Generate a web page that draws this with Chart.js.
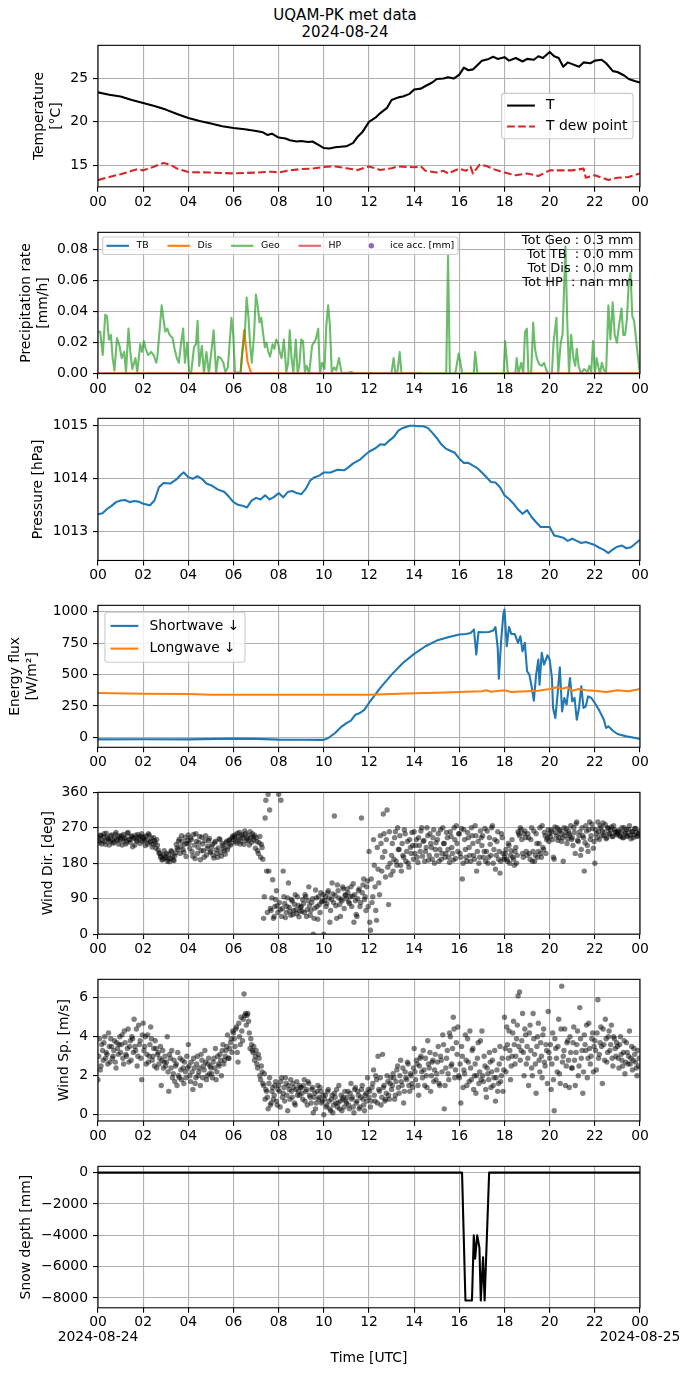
<!DOCTYPE html>
<html>
<head>
<meta charset="utf-8">
<script src="https://cdn.jsdelivr.net/npm/chart.js@4.4.1/dist/chart.umd.min.js"></script>
<style>
  body { margin: 0; background: #fff; width: 690px; height: 1377px; position: relative; overflow: hidden; font-family: 'DejaVu Sans'; }
  canvas { position: absolute; left: 0; }
  #title { position: absolute; left: 0; top: 7px; width: 690px; text-align: center; font-size: 15px; line-height: 17px; color: #000; }
</style>
</head>
<body>
<div id="title">UQAM-PK met data<br>2024-08-24</div>
<script>
// ---- axis ticks / labels ----
const hourTicks = [0, 2, 4, 6, 8, 10, 12, 14, 16, 18, 20, 22, 24];
const hourLabels = ['00', '02', '04', '06', '08', '10', '12', '14', '16', '18', '20', '22', '00'];
const dayLabels = ['2024-08-24', '2024-08-25'];

// ---- temperature ----
const tempTime = [0, 0.5, 1, 1.5, 2, 2.5, 3, 3.5, 4, 4.5, 5, 5.5, 6, 6.5, 7, 7.3, 7.5, 7.7, 8, 8.3, 8.5, 8.8, 9, 9.3, 9.5, 9.8, 10, 10.25, 10.5, 11, 11.3, 11.5, 11.7, 12, 12.3, 12.5, 12.8, 13, 13.3, 13.5, 13.8, 14, 14.3, 14.5, 14.8, 15, 15.3, 15.5, 15.75, 16, 16.2, 16.4, 16.6, 17, 17.3, 17.5, 17.7, 18, 18.2, 18.5, 18.8, 19, 19.3, 19.5, 19.7, 20, 20.2, 20.4, 20.6, 20.8, 21, 21.3, 21.5, 21.8, 22, 22.3, 22.5, 22.8, 23, 23.3, 23.5, 23.8, 24];
const tempT = [23.37, 23.1, 22.9, 22.5, 22.15, 21.8, 21.4, 20.9, 20.45, 20.1, 19.8, 19.5, 19.3, 19.15, 18.95, 18.8, 18.5, 18.65, 18.2, 18.1, 17.9, 17.75, 17.8, 17.7, 17.75, 17.3, 17.0, 16.95, 17.1, 17.2, 17.6, 18.3, 18.8, 20.0, 20.5, 21.0, 21.6, 22.5, 22.8, 22.9, 23.2, 23.7, 23.8, 24.1, 24.5, 24.9, 24.95, 25.1, 24.95, 25.4, 26.2, 25.9, 26.0, 27.0, 27.2, 27.45, 27.2, 27.4, 27.0, 27.3, 26.9, 27.2, 27.1, 27.5, 27.3, 28.0, 27.5, 27.3, 26.3, 26.8, 26.6, 26.3, 26.8, 26.7, 27.0, 27.1, 26.7, 25.8, 25.7, 25.3, 24.9, 24.65, 24.5];
const dewTime = [0, 0.5, 1, 1.5, 1.75, 2, 2.5, 2.9, 3.2, 3.5, 4, 5, 6, 7, 7.7, 8, 8.5, 9, 9.5, 10, 10.5, 11, 11.5, 12, 12.5, 13, 13.3, 14, 14.3, 14.5, 15, 15.3, 15.5, 16, 16.3, 16.5, 16.6, 16.9, 17.2, 17.5, 18, 18.5, 19, 19.5, 20, 21, 21.5, 21.6, 22, 22.6, 23, 23.5, 24];
const dewT = [13.33, 13.7, 14.0, 14.4, 14.6, 14.45, 14.9, 15.3, 15.1, 14.65, 14.25, 14.2, 14.1, 14.2, 14.3, 14.2, 14.45, 14.6, 14.65, 14.85, 14.9, 14.7, 14.5, 14.9, 14.5, 14.7, 14.9, 14.8, 14.9, 14.4, 14.2, 14.4, 14.1, 14.65, 14.4, 14.85, 14.1, 15.1, 14.95, 14.6, 14.2, 13.9, 14.1, 13.8, 14.45, 14.45, 14.65, 13.6, 13.9, 13.35, 13.6, 13.7, 14.1];

// ---- precipitation ----
const geoTime = [0.00, 0.10, 0.21, 0.32, 0.40, 0.48, 0.57, 0.65, 0.73, 0.84, 0.95, 1.05, 1.16, 1.24, 1.35, 1.43, 1.52, 1.66, 1.74, 1.87, 1.95, 2.03, 2.11, 2.22, 2.35, 2.46, 2.58, 2.63, 2.82, 2.90, 2.98, 3.07, 3.17, 3.30, 3.39, 3.49, 3.58, 3.69, 3.77, 3.85, 3.95, 4.04, 4.12, 4.25, 4.34, 4.41, 4.48, 4.60, 4.69, 4.80, 4.91, 5.04, 5.12, 5.23, 5.32, 5.44, 5.55, 5.64, 5.75, 5.91, 5.99, 6.07, 6.18, 6.31, 6.39, 6.50, 6.58, 6.66, 6.74, 6.81, 6.91, 6.99, 7.07, 7.15, 7.23, 7.31, 7.39, 7.46, 7.54, 7.62, 7.73, 7.81, 7.89, 7.97, 8.05, 8.13, 8.23, 8.34, 8.42, 8.49, 8.57, 8.65, 8.76, 8.84, 8.92, 9.00, 9.08, 9.16, 9.24, 9.35, 9.48, 9.56, 9.64, 9.75, 9.83, 9.92, 10.03, 10.11, 10.19, 10.27, 10.35, 10.46, 10.55, 10.67, 10.78, 10.90, 11.22, 11.38, 12.99, 13.09, 13.17, 13.25, 13.36, 13.44, 15.42, 15.50, 15.58, 15.82, 15.97, 16.13, 16.64, 16.70, 16.80, 17.96, 18.03, 18.15, 18.48, 18.54, 18.62, 18.74, 18.83, 18.91, 18.99, 19.06, 19.18, 19.27, 19.35, 19.43, 19.54, 19.65, 19.75, 19.86, 19.94, 20.10, 20.17, 20.30, 20.38, 20.49, 20.57, 20.70, 20.78, 20.86, 20.95, 21.05, 21.13, 21.20, 21.28, 21.39, 21.52, 21.68, 21.76, 21.84, 21.92, 22.00, 22.08, 22.16, 22.23, 22.31, 22.41, 22.50, 22.60, 22.69, 22.79, 22.88, 22.98, 23.07, 23.18, 23.26, 23.34, 23.42, 23.50, 23.58, 23.66, 23.74, 23.90, 24.00];
const geoRate = [0.027, 0.027, 0.012, 0.038, 0.037, 0.022, 0.025, 0.010, 0.002, 0.023, 0.018, 0.010, 0.014, 0.001, 0.029, 0.014, 0.003, 0.010, 0.001, 0.019, 0.014, 0.021, 0.016, 0.012, 0.014, 0.012, 0.007, 0.011, 0.044, 0.035, 0.027, 0.029, 0.025, 0.023, 0.016, 0.010, 0.007, 0.021, 0.029, 0.007, 0.020, 0, 0, 0.017, 0.019, 0.034, 0.005, 0.018, 0, 0.014, 0, 0.017, 0.028, 0, 0.011, 0.010, 0.007, 0.001, 0.004, 0.036, 0.025, 0, 0.001, 0, 0.014, 0.025, 0.049, 0.037, 0.018, 0.007, 0.025, 0.051, 0.044, 0.033, 0.036, 0.026, 0.017, 0.020, 0.014, 0.011, 0.019, 0.016, 0.022, 0.020, 0.014, 0.010, 0.022, 0.001, 0.007, 0.028, 0.010, 0.001, 0.022, 0, 0.006, 0.022, 0.021, 0.001, 0.005, 0, 0.018, 0.020, 0.022, 0.029, 0, 0.007, 0.003, 0.031, 0.044, 0.031, 0.001, 0.004, 0.002, 0.010, 0.001, 0, 0.001, 0, 0, 0.010, 0, 0, 0.014, 0, 0, 0.076, 0, 0, 0.013, 0, 0, 0.014, 0, 0, 0.021, 0, 0, 0.010, 0, 0.007, 0, 0.027, 0.029, 0, 0, 0.033, 0.016, 0.010, 0.006, 0.005, 0.007, 0.002, 0, 0, 0.020, 0.036, 0, 0.020, 0.025, 0.082, 0.033, 0, 0.025, 0.010, 0.005, 0.016, 0.005, 0, 0.003, 0.001, 0.005, 0.001, 0.021, 0, 0.010, 0.004, 0, 0.007, 0.002, 0.001, 0.044, 0.022, 0.046, 0.025, 0.020, 0.031, 0.042, 0.025, 0.025, 0.035, 0.058, 0.065, 0.037, 0.034, 0.012, 0];
const disTime = [0, 6.31, 6.47, 6.62, 6.74, 6.81, 24];
const disRate = [0, 0, 0.028, 0.008, 0.002, 0, 0];
const tbTime = [0, 24];
const tbRate = [0, 0];
const hpTime = [0, 14.35, 14.4, 17.98, 24];
const hpRate = [0, 0, null, 0, 0];
const precipTotals = ['Tot Geo : 0.3 mm', 'Tot TB  : 0.0 mm', 'Tot Dis : 0.0 mm', 'Tot HP  : nan mm'];

// ---- pressure ----
const presTime = [0, 0.2, 0.4, 0.6, 0.8, 1.0, 1.2, 1.4, 1.6, 1.8, 2.0, 2.3, 2.5, 2.7, 2.9, 3.2, 3.5, 3.7, 3.8, 4.0, 4.2, 4.4, 4.6, 4.8, 5.0, 5.3, 5.6, 5.8, 6.0, 6.2, 6.4, 6.6, 6.8, 7.0, 7.2, 7.4, 7.6, 7.8, 8.0, 8.2, 8.4, 8.6, 8.8, 9.0, 9.2, 9.4, 9.6, 9.8, 10.0, 10.3, 10.6, 10.9, 11.1, 11.3, 11.6, 11.8, 12.0, 12.3, 12.5, 12.7, 12.9, 13.1, 13.3, 13.5, 13.8, 14.0, 14.2, 14.4, 14.6, 14.8, 15.0, 15.2, 15.4, 15.6, 15.8, 16.0, 16.2, 16.4, 16.6, 16.8, 17.0, 17.2, 17.4, 17.6, 17.8, 18.0, 18.2, 18.4, 18.6, 18.8, 19.0, 19.2, 19.4, 19.6, 19.8, 20.0, 20.2, 20.4, 20.6, 20.8, 21.0, 21.2, 21.4, 21.6, 21.8, 22.0, 22.2, 22.4, 22.6, 22.8, 23.0, 23.2, 23.4, 23.6, 23.8, 24.0];
const presVal = [1013.33, 1013.35, 1013.43, 1013.49, 1013.56, 1013.59, 1013.60, 1013.56, 1013.58, 1013.57, 1013.53, 1013.50, 1013.59, 1013.84, 1013.92, 1013.91, 1014.00, 1014.09, 1014.12, 1014.03, 1014.00, 1014.05, 1014.00, 1013.91, 1013.88, 1013.80, 1013.75, 1013.66, 1013.56, 1013.51, 1013.49, 1013.46, 1013.59, 1013.64, 1013.61, 1013.69, 1013.61, 1013.66, 1013.73, 1013.65, 1013.75, 1013.77, 1013.73, 1013.71, 1013.81, 1013.97, 1014.03, 1014.06, 1014.12, 1014.12, 1014.17, 1014.16, 1014.22, 1014.29, 1014.36, 1014.44, 1014.51, 1014.58, 1014.65, 1014.64, 1014.72, 1014.79, 1014.91, 1014.96, 1015.00, 1015.00, 1014.99, 1014.99, 1014.96, 1014.87, 1014.77, 1014.65, 1014.57, 1014.53, 1014.49, 1014.38, 1014.30, 1014.30, 1014.25, 1014.20, 1014.12, 1014.03, 1013.94, 1013.93, 1013.84, 1013.69, 1013.62, 1013.53, 1013.42, 1013.34, 1013.41, 1013.28, 1013.18, 1013.09, 1013.09, 1013.09, 1012.93, 1012.91, 1012.89, 1012.83, 1012.87, 1012.83, 1012.79, 1012.81, 1012.78, 1012.75, 1012.70, 1012.66, 1012.60, 1012.67, 1012.72, 1012.74, 1012.69, 1012.71, 1012.78, 1012.85];

// ---- radiation ----
const swTime = [0, 2, 4, 6, 7, 8, 9, 10, 10.2, 10.5, 10.8, 11.0, 11.2, 11.4, 11.6, 11.8, 12.0, 12.5, 13.0, 13.5, 14.0, 14.5, 15.0, 15.5, 16.0, 16.3, 16.5, 16.65, 16.75, 16.85, 17.0, 17.3, 17.5, 17.6, 17.7, 17.75, 17.85, 17.95, 18.0, 18.1, 18.2, 18.3, 18.45, 18.6, 18.7, 18.8, 18.9, 19.0, 19.1, 19.2, 19.3, 19.4, 19.5, 19.55, 19.65, 19.75, 19.9, 20.0, 20.1, 20.15, 20.25, 20.35, 20.45, 20.55, 20.65, 20.75, 20.9, 21.0, 21.1, 21.2, 21.3, 21.4, 21.5, 21.6, 21.7, 21.85, 22.0, 22.2, 22.4, 22.5, 22.6, 22.8, 23.0, 23.4, 23.8, 24.0];
const swVal = [-16, -15, -16, -10, -12, -18, -19, -20, -5, 35, 88, 114, 133, 181, 194, 221, 274, 394, 500, 593, 665, 726, 771, 798, 819, 824, 832, 859, 660, 840, 838, 840, 851, 878, 713, 468, 766, 984, 1019, 726, 880, 824, 824, 753, 806, 686, 753, 527, 500, 407, 293, 500, 620, 420, 673, 580, 654, 620, 473, 234, 154, 340, 559, 207, 314, 261, 473, 287, 314, 141, 234, 407, 234, 247, 327, 314, 274, 213, 141, 75, 88, 53, 27, 8, -5, -13];
const lwTime = [0, 2, 4, 5, 8, 10, 12, 13, 14, 15, 16, 17, 17.2, 17.4, 18.0, 18.3, 19.0, 19.5, 20.0, 20.3, 20.5, 20.8, 21.0, 21.3, 21.6, 22.0, 22.5, 23.0, 23.5, 24.0];
const lwVal = [354, 348, 345, 340, 340, 340, 340, 346, 351, 356, 362, 367, 375, 364, 375, 362, 367, 372, 386, 399, 386, 399, 372, 386, 375, 372, 362, 375, 367, 386];

// ---- wind: readings every 4 minutes (15 per hour); the "B" arrays are the readings 2 minutes later ----
const windStepMin = 4;
const windDirA = [
  245, 232, 250, 238, 255, 228, 246, 240, 236, 252, 231, 244, 258, 237, 249,
  241, 226, 253, 245, 234, 258, 239, 248, 222, 244, 251, 236, 247, 230, 255,
  243, 238, 249, 229, 252, 236, 221, 245, 232, 240, 214, 205, 198, 190, 212,
  196, 185, 203, 192, 210, 188, 199, 228, 215, 241, 222, 235, 208, 246, 230,
  252, 218, 240, 198, 226, 255, 205, 233, 189, 246, 212, 237, 201, 224, 243,
  210, 228, 193, 236, 205, 219, 240, 198, 225, 212, 232, 214, 238, 226, 245,
  240, 252, 231, 246, 258, 236, 249, 228, 255, 243, 238, 260, 233, 247, 251,
  245, 212, 232, 195, 220, 40, 295, 160, 355, 315, 60, 138, 45, 88, 72,
  355, 62, 45, 160, 78, 55, 92, 68, 48, 84, 60, 100, 52, 73, 58,
  70, 88, 55, 95, 62, 120, 48, 80, 0, 66, 92, 38, 75, 105, 84,
  0, 95, 78, 110, 30, 88, 102, 300, 72, 125, 92, 45, 84, 115, 98,
  90, 105, 78, 120, 96, 30, 85, 45, 110, 70, 295, 125, 88, 60, 135,
  210, 10, 80, 240, 120, 35, 165, 100, 230, 195, 255, 145, 315, 75, 180,
  200, 160, 245, 185, 270, 215, 175, 230, 195, 255, 210, 180, 240, 205, 225,
  260, 225, 195, 245, 210, 270, 235, 185, 220, 250, 200, 230, 190, 265, 215,
  200, 255, 215, 190, 270, 230, 205, 245, 195, 260, 220, 188, 240, 275, 210,
  255, 195, 140, 265, 215, 185, 245, 200, 270, 230, 190, 250, 210, 180, 262,
  225, 195, 268, 210, 180, 245, 200, 275, 215, 165, 235, 190, 155, 255, 205,
  195, 215, 185, 225, 200, 240, 190, 210, 180, 260, 250, 265, 205, 255, 245,
  200, 245, 190, 270, 210, 185, 255, 195, 230, 205, 275, 215, 250, 240, 265,
  255, 265, 240, 190, 258, 270, 245, 262, 235, 185, 250, 268, 242, 255, 275,
  245, 270, 205, 285, 235, 260, 215, 250, 160, 275, 225, 265, 240, 280, 218,
  180, 255, 285, 240, 270, 262, 250, 278, 245, 268, 255, 272, 248, 265, 258,
  255, 262, 248, 270, 245, 258, 265, 250, 275, 242, 260, 252, 268, 248, 255
];
const windDirB = [
  238, 251, 229, 247, 235, 256, 242, 226, 249, 239, 233, 254, 241, 229, 246,
  250, 237, 243, 229, 256, 240, 233, 249, 244, 226, 238, 253, 242, 248, 236,
  247, 225, 240, 255, 233, 244, 228, 237, 218, 226, 206, 195, 188, 201, 193,
  205, 191, 184, 212, 197, 187, 206, 219, 236, 205, 250, 215, 228, 197, 238,
  231, 244, 209, 253, 192, 236, 220, 248, 212, 229, 195, 250, 217, 238, 207,
  221, 200, 232, 214, 195, 242, 208, 230, 218, 203, 236, 222, 240, 231, 249,
  247, 235, 256, 241, 229, 253, 244, 262, 237, 250, 226, 245, 255, 239, 218,
  235, 205, 248, 228, 190, 95, 340, 55, 160, 65, 92, 40, 70, 110, 55,
  80, 340, 65, 95, 42, 70, 130, 58, 88, 50, 76, 62, 95, 44, 68,
  58, 78, 100, 45, 85, 72, 60, 90, 40, 112, 70, 95, 55, 82, 100,
  85, 70, 105, 92, 60, 130, 80, 98, 40, 110, 75, 88, 120, 65, 100,
  115, 82, 95, 70, 128, 100, 50, 90, 115, 80, 105, 140, 95, 120, 70,
  30, 140, 95, 175, 60, 220, 130, 250, 160, 305, 210, 240, 170, 260, 150,
  230, 190, 260, 175, 215, 250, 160, 200, 265, 185, 235, 170, 220, 258, 190,
  205, 240, 182, 225, 262, 198, 238, 210, 270, 188, 255, 220, 245, 180, 232,
  240, 185, 265, 205, 230, 195, 258, 215, 182, 248, 205, 270, 192, 230, 255,
  205, 268, 180, 240, 195, 258, 220, 185, 250, 200, 275, 160, 235, 195, 245,
  250, 210, 185, 262, 195, 228, 270, 180, 240, 200, 260, 210, 185, 245, 190,
  205, 190, 230, 180, 212, 195, 175, 220, 200, 255, 270, 240, 195, 262, 210,
  255, 205, 240, 185, 262, 200, 230, 210, 270, 195, 220, 258, 205, 245, 235,
  248, 260, 195, 272, 250, 238, 265, 255, 245, 270, 258, 230, 262, 250, 240,
  225, 258, 280, 238, 250, 200, 270, 245, 232, 262, 210, 285, 250, 268, 235,
  265, 245, 260, 275, 250, 282, 258, 242, 270, 255, 265, 248, 275, 260, 252,
  262, 250, 258, 245, 270, 255, 248, 265, 252, 260, 245, 268, 258, 250, 262
];
const windSpdA = [
  1.8, 3.9, 2.5, 3.3, 3.7, 2.9, 3.1, 4.2, 2.7, 3.5, 3.0, 3.8, 2.4, 3.4, 3.6,
  3.2, 4.1, 2.6, 3.7, 3.0, 4.4, 3.5, 2.8, 3.9, 4.9, 3.3, 2.5, 4.6, 3.8, 1.8,
  4.7, 3.5, 2.6, 4.1, 3.0, 4.5, 2.8, 3.4, 3.8, 2.4, 3.2, 2.9, 1.5, 3.3, 2.7,
  2.5, 4.0, 1.2, 2.9, 3.3, 2.1, 1.7, 2.6, 3.2, 1.9, 2.3, 2.8, 1.6, 2.2, 3.0,
  3.6, 2.0, 2.7, 1.3, 2.4, 1.9, 3.0, 2.2, 1.5, 2.8, 2.5, 3.3, 1.8, 2.6, 2.1,
  2.4, 1.9, 2.9, 3.4, 2.2, 2.6, 3.1, 2.0, 3.6, 2.8, 3.3, 4.1, 2.9, 3.7, 3.2,
  4.2, 3.5, 4.5, 2.7, 4.0, 5.0, 3.8, 6.2, 5.2, 5.1, 4.8, 3.4, 3.6, 3.2, 2.8,
  3.3, 2.4, 2.9, 1.8, 2.2, 1.5, 0.8, 1.2, 0.3, 1.9, 0.6, 1.4, 1.0, 1.7, 0.5,
  1.5, 0.4, 1.9, 1.1, 0.7, 1.6, 0.2, 1.3, 1.8, 0.9, 1.4, 0.5, 1.7, 1.2, 1.0,
  1.4, 0.8, 1.8, 1.2, 0.5, 1.6, 0.9, 1.3, 0.1, 1.1, 0.6, 1.5, 0.9, 1.2, 0.7,
  0.0, 1.0, 0.5, 1.3, 0.3, 0.8, 0.1, 1.1, 0.6, 0.4, 1.5, 0.7, 0.2, 0.9, 1.2,
  0.6, 1.2, 0.3, 1.6, 0.9, 0.1, 1.4, 0.7, 1.0, 0.4, 1.3, 0.8, 0.2, 1.1, 1.9,
  0.9, 0.4, 1.4, 2.3, 0.7, 1.8, 3.0, 1.2, 0.5, 3.1, 1.5, 0.8, 2.0, 1.0, 1.6,
  1.3, 2.1, 0.8, 1.7, 2.5, 1.1, 2.8, 1.5, 0.6, 2.2, 1.8, 2.6, 1.2, 2.0, 1.4,
  3.4, 1.8, 2.6, 1.0, 2.9, 2.2, 3.3, 1.5, 2.0, 3.8, 2.4, 1.2, 2.7, 1.7, 3.1,
  2.1, 3.5, 1.5, 2.8, 4.1, 0.3, 2.4, 3.3, 1.8, 4.0, 2.6, 5.0, 1.9, 3.7, 4.5,
  1.9, 0.6, 3.0, 2.3, 4.1, 1.5, 2.7, 4.3, 1.8, 3.4, 2.0, 1.1, 2.9, 1.6, 3.8,
  4.3, 1.7, 2.5, 0.9, 2.1, 3.2, 1.4, 2.8, 1.9, 0.7, 2.3, 1.6, 3.5, 2.0, 1.2,
  5.0, 2.2, 3.6, 4.3, 1.8, 3.0, 4.8, 2.6, 3.9, 6.1, 6.3, 3.3, 5.2, 2.0, 4.1,
  3.5, 1.5, 4.6, 2.4, 5.2, 3.1, 1.1, 4.0, 2.8, 3.7, 1.9, 4.4, 2.5, 3.3, 5.3,
  2.9, 1.3, 4.2, 0.2, 3.4, 2.2, 4.9, 1.6, 6.6, 3.0, 4.4, 2.5, 3.8, 1.4, 3.2,
  2.4, 4.5, 1.5, 3.6, 2.0, 5.5, 2.9, 1.1, 4.1, 3.3, 1.9, 4.7, 2.6, 3.9, 2.2,
  3.8, 2.3, 5.9, 3.1, 4.5, 1.6, 3.6, 4.9, 2.7, 4.0, 3.3, 4.6, 2.5, 3.9, 3.0,
  3.5, 2.4, 4.0, 2.8, 3.2, 2.1, 3.7, 2.6, 4.3, 2.9, 2.3, 3.4, 2.7, 2.0, 2.5
];
const windSpdB = [
  3.0, 2.3, 3.6, 2.8, 4.0, 3.2, 2.6, 3.5, 3.9, 2.9, 3.3, 2.7, 3.7, 3.1, 4.0,
  3.6, 2.9, 4.3, 3.1, 3.4, 2.7, 3.8, 4.0, 3.2, 3.5, 4.4, 3.0, 3.6, 2.9, 4.1,
  3.3, 4.0, 3.1, 2.7, 3.6, 3.9, 3.0, 2.5, 3.4, 3.1, 2.6, 3.5, 2.8, 2.4, 3.0,
  2.7, 2.2, 3.1, 2.4, 1.9, 2.8, 2.5, 1.5, 2.0, 2.9, 1.8, 2.4, 2.7, 1.9, 2.4,
  2.5, 1.7, 2.2, 2.9, 1.6, 2.6, 2.0, 2.4, 3.1, 1.9, 2.3, 2.7, 2.0, 2.9, 2.5,
  2.1, 2.7, 2.4, 1.8, 3.0, 2.5, 2.8, 3.3, 2.6, 3.0, 3.5, 2.9, 3.4, 3.9, 4.3,
  3.9, 4.4, 3.2, 4.7, 3.6, 4.3, 4.9, 5.1, 4.6, 5.2, 4.2, 3.9, 3.3, 3.5, 3.0,
  2.6, 3.1, 2.0, 2.5, 1.6, 2.1, 1.3, 0.9, 1.6, 0.5, 1.2, 0.8, 1.5, 0.7, 1.3,
  1.2, 1.7, 0.9, 1.4, 1.9, 1.0, 1.5, 0.8, 1.2, 1.6, 0.6, 1.3, 1.0, 1.5, 1.4,
  1.1, 1.5, 0.7, 1.3, 1.7, 1.0, 0.6, 1.4, 0.9, 0.3, 1.2, 0.8, 1.4, 0.6, 1.0,
  0.8, 0.4, 1.2, 0.7, 0.2, 1.0, 0.5, 0.9, 1.3, 0.6, 0.3, 1.0, 0.8, 0.4, 0.7,
  0.9, 0.5, 1.1, 0.8, 0.4, 1.3, 0.6, 1.2, 0.3, 0.9, 1.5, 0.5, 1.0, 0.7, 1.3,
  1.2, 0.7, 1.6, 1.0, 2.0, 0.6, 1.3, 1.9, 0.9, 1.4, 0.7, 1.1, 1.7, 0.8, 1.9,
  1.5, 1.9, 1.0, 2.3, 1.4, 2.0, 1.7, 2.4, 1.2, 1.9, 2.7, 1.5, 2.1, 1.6, 2.4,
  2.2, 2.8, 1.5, 2.5, 3.0, 1.9, 2.3, 2.9, 1.4, 2.6, 3.2, 2.0, 2.8, 2.3, 1.8,
  2.7, 1.6, 3.0, 2.2, 3.6, 1.5, 2.9, 2.1, 4.2, 2.5, 3.4, 4.4, 2.3, 3.1, 2.0,
  2.6, 3.5, 1.4, 2.1, 2.8, 3.9, 1.7, 2.4, 3.3, 1.3, 2.6, 2.0, 3.7, 2.2, 1.8,
  2.0, 3.0, 1.3, 2.4, 1.8, 2.7, 2.2, 1.5, 3.3, 1.9, 1.2, 2.6, 1.7, 2.9, 2.3,
  3.4, 4.5, 2.9, 3.3, 2.5, 4.2, 3.6, 3.0, 4.6, 3.5, 2.8, 3.8, 3.2, 4.4, 2.6,
  2.9, 4.2, 3.3, 2.0, 3.9, 2.6, 3.5, 4.7, 2.2, 3.0, 4.1, 2.7, 3.6, 1.6, 3.2,
  3.6, 2.6, 1.8, 3.9, 2.9, 3.5, 2.1, 4.4, 2.7, 3.3, 1.5, 3.7, 2.8, 4.0, 2.4,
  3.7, 2.8, 3.2, 4.3, 2.5, 3.9, 3.3, 2.2, 3.6, 4.6, 2.9, 3.4, 3.0, 4.2, 3.5,
  3.3, 4.2, 2.9, 3.7, 3.5, 4.4, 2.8, 3.9, 3.2, 4.3, 3.6, 2.9, 4.0, 3.4, 3.7,
  2.9, 3.6, 3.1, 2.5, 3.8, 2.7, 3.2, 3.0, 2.6, 3.5, 2.8, 3.1, 2.4, 3.3, 2.9
];

// ---- snow depth ----
const snowTime = [0, 16.12, 16.27, 16.56, 16.64, 16.70, 16.79, 16.89, 16.95, 17.05, 17.12, 17.32, 24];
const snowVal = [0, 0, -8170, -8170, -4000, -5500, -4000, -4800, -8170, -5400, -8170, 0, 0];

// ---- layout (px) ----
const PLOT_LEFT = 98, PLOT_RIGHT = 640, FIRST_TOP = 44.3, PANEL_STEP = 186.83, PANEL_H = 142.5, PAD_TOP = 12;
const FS = 13.9, LW = 2.08;

Chart.defaults.font.family = 'DejaVu Sans';
Chart.defaults.font.size = FS;
Chart.defaults.color = '#000';

const pts = (xs, ys) => xs.map((x, i) => ({x: x, y: ys[i]}));
const windPts = (vals, offsetMin) => vals.map((v, i) => ({x: (i * windStepMin + offsetMin) / 60, y: v}));

function lineSet(label, xs, ys, color, extra) {
  return Object.assign({label: label, data: pts(xs, ys), showLine: true, borderColor: color, backgroundColor: color,
    borderWidth: LW, pointRadius: 0, borderJoinStyle: 'round'}, extra || {});
}

function dotSet(a, b) {
  return {data: windPts(a, 0).concat(windPts(b, 2)), backgroundColor: 'rgba(0,0,0,0.5)', borderWidth: 0, pointRadius: 2.7};
}

// box around the axes
const frame = {
  id: 'frame',
  afterDatasetsDraw(chart) {
    const {ctx, chartArea: a} = chart;
    ctx.save();
    ctx.strokeStyle = '#000';
    ctx.lineWidth = 1.1;
    ctx.strokeRect(a.left, a.top, a.right - a.left, a.bottom - a.top);
    ctx.restore();
  }
};

// matplotlib-like framed legend
const boxLegend = {
  id: 'boxLegend',
  afterDraw(chart, args, o) {
    if (!o || !o.show) return;
    const {ctx, chartArea: a} = chart;
    const fs = o.fontSize;
    const items = chart.data.datasets.filter(d => d.label);
    const pad = 0.4 * fs, gap = 0.8 * fs, colSp = 2 * fs, inset = 0.5 * fs;
    const ncol = o.ncol || 1;
    const nrow = Math.ceil(items.length / ncol);
    ctx.save();
    ctx.font = fs + 'px "DejaVu Sans"';
    const colW = [];
    items.forEach((d, i) => {
      const c = Math.floor(i / nrow);
      colW[c] = Math.max(colW[c] || 0, o.handleLen + gap + ctx.measureText(d.label).width);
    });
    const w = 2 * pad + colW.reduce((s, v) => s + v, 0) + colSp * (colW.length - 1);
    const h = 2 * pad + (nrow - 1) * o.rowH + o.textH;
    let x0, y0;
    if (o.loc === 'upper left') { x0 = a.left + inset; y0 = a.top + inset; }
    else { x0 = a.right - inset - w; y0 = (a.top + a.bottom) / 2 - h / 2; }
    ctx.fillStyle = 'rgba(255,255,255,0.8)';
    ctx.strokeStyle = '#cccccc';
    ctx.lineWidth = 1.1;
    ctx.beginPath();
    ctx.roundRect(x0, y0, w, h, 0.2 * fs);
    ctx.fill();
    ctx.stroke();
    items.forEach((d, i) => {
      const c = Math.floor(i / nrow), r = i % nrow;
      let cx = x0 + pad;
      for (let k = 0; k < c; k++) cx += colW[k] + colSp;
      const yc = y0 + pad + o.textH / 2 + r * o.rowH;
      if (d.showLine === false) {
        ctx.fillStyle = d.backgroundColor;
        ctx.beginPath();
        ctx.arc(cx + o.handleLen / 2, yc, 2.7, 0, Math.PI * 2);
        ctx.fill();
      } else {
        ctx.strokeStyle = d.borderColor;
        ctx.lineWidth = d.borderWidth;
        ctx.setLineDash(d.borderDash || []);
        ctx.beginPath();
        ctx.moveTo(cx, yc);
        ctx.lineTo(cx + o.handleLen, yc);
        ctx.stroke();
        ctx.setLineDash([]);
      }
      ctx.fillStyle = '#000';
      ctx.textAlign = 'left';
      ctx.textBaseline = 'middle';
      ctx.fillText(d.label, cx + o.handleLen + gap, yc);
    });
    ctx.restore();
  }
};

// text block in the upper right of the precipitation axes
const cornerText = {
  id: 'cornerText',
  afterDraw(chart, args, o) {
    if (!o || !o.lines) return;
    const {ctx, chartArea: a} = chart;
    ctx.save();
    ctx.font = o.size + 'px "DejaVu Sans"';
    ctx.fillStyle = '#000';
    ctx.textAlign = 'right';
    ctx.textBaseline = 'middle';
    o.lines.forEach((t, k) => ctx.fillText(t, a.right - o.dx, a.top + o.dy + k * o.step));
    ctx.restore();
  }
};

function makePanel(i, datasets, y, extra) {
  extra = extra || {};
  const top = FIRST_TOP + i * PANEL_STEP;
  const cTop = Math.floor(top) - PAD_TOP;
  const padTop = top - cTop;
  const xH0 = extra.xH || 30;
  const h = Math.ceil(padTop + PANEL_H + xH0);
  const xH = h - padTop - PANEL_H;
  const cv = document.createElement('canvas');
  cv.width = 690; cv.height = h;
  cv.style.top = cTop + 'px';
  document.body.appendChild(cv);
  const xLabels = extra.xLabels || hourLabels;
  new Chart(cv, {
    type: 'scatter',
    data: {datasets: datasets},
    options: {
      responsive: false, animation: false, events: [],
      layout: {padding: {top: padTop, right: 690 - PLOT_RIGHT, bottom: 0, left: 0}},
      plugins: {
        legend: {display: false}, tooltip: {enabled: false},
        boxLegend: extra.legend || {}, cornerText: extra.corner || {}
      },
      scales: {
        x: {
          type: 'linear', min: 0, max: 24,
          afterBuildTicks: s => { s.ticks = hourTicks.map(v => ({value: v})); },
          afterFit: s => { s.height = xH; },
          ticks: {autoSkip: false, maxRotation: 0, padding: 2, callback: (v, k) => xLabels[k],
            font: {size: FS, lineHeight: extra.xLineHeight || 1.2}},
          grid: {color: '#b0b0b0', lineWidth: 1.1, tickColor: '#000', tickLength: 5, tickWidth: 1.1},
          border: {display: false},
          title: extra.xTitle ? {display: true, text: extra.xTitle, padding: {top: 0, bottom: 10.4}} : {display: false}
        },
        y: {
          min: y.min, max: y.max,
          afterBuildTicks: s => { s.ticks = y.ticks.map(v => ({value: v})); },
          afterFit: s => { s.width = PLOT_LEFT; },
          ticks: {autoSkip: false, padding: 5, callback: (v, k) => y.labels[k]},
          grid: {color: '#b0b0b0', lineWidth: 1.1, tickColor: '#000', tickLength: 5, tickWidth: 1.1},
          border: {display: false},
          title: {display: true, text: y.title, padding: {top: y.titlePad, bottom: 0}}
        }
      }
    },
    plugins: [frame, boxLegend, cornerText]
  });
}

// 1 temperature
makePanel(0, [
  lineSet('T', tempTime, tempT, '#000000', {order: 2}),
  lineSet('T dew point', dewTime, dewT, '#d62728', {order: 1, borderDash: [7.7, 3.3]})
], {min: 12.57, max: 28.75, ticks: [15, 20, 25], labels: ['15', '20', '25'], title: ['Temperature', '[°C]'], titlePad: 31},
{legend: {show: true, loc: 'center right', fontSize: FS, handleLen: 27.8, rowH: 21, textH: 13.2}});

// 2 precipitation
makePanel(1, [
  lineSet('TB', tbTime, tbRate, '#1f77b4', {order: 5}),
  lineSet('Dis', disTime, disRate, '#ff7f0e', {order: 4}),
  lineSet('Geo', geoTime, geoRate, 'rgba(44,160,44,0.7)', {order: 3}),
  lineSet('HP', hpTime, hpRate, 'rgba(214,39,40,0.7)', {order: 2, spanGaps: false}),
  {label: 'ice acc. [mm]', data: [], showLine: false, backgroundColor: '#9467bd', borderColor: '#9467bd', pointRadius: 2.7, order: 1}
], {min: 0, max: 0.0911, ticks: [0, 0.02, 0.04, 0.06, 0.08], labels: ['0.00', '0.02', '0.04', '0.06', '0.08'],
  title: ['Precipitation rate', '[mm/h]'], titlePad: 18.4},
{legend: {show: true, loc: 'upper left', ncol: 5, fontSize: 9.4, handleLen: 22.5, rowH: 12, textH: 10},
 corner: {lines: precipTotals, size: 13, dx: 6.5, dy: 8.3, step: 14}});

// 3 pressure
makePanel(2, [
  lineSet('', presTime, presVal, '#1f77b4')
], {min: 1012.46, max: 1015.14, ticks: [1013, 1014, 1015], labels: ['1013', '1014', '1015'], title: 'Pressure [hPa]', titlePad: 30});

// 4 radiation
makePanel(3, [
  lineSet('Shortwave ↓', swTime, swVal, '#1f77b4', {order: 2}),
  lineSet('Longwave ↓', lwTime, lwVal, '#ff7f0e', {order: 1})
], {min: -79, max: 1052, ticks: [0, 250, 500, 750, 1000], labels: ['0', '250', '500', '750', '1000'],
  title: ['Energy flux', '[W/m²]'], titlePad: 7.4},
{legend: {show: true, loc: 'upper left', fontSize: FS, handleLen: 27.8, rowH: 22.7, textH: 16.1}});

// 5 wind direction
makePanel(4, [dotSet(windDirA, windDirB)],
  {min: 0, max: 360, ticks: [0, 90, 180, 270, 360], labels: ['0', '90', '180', '270', '360'], title: 'Wind Dir. [deg]', titlePad: 39.7});

// 6 wind speed
makePanel(5, [dotSet(windSpdA, windSpdB)],
  {min: -0.32, max: 6.95, ticks: [0, 2, 4, 6], labels: ['0', '2', '4', '6'], title: 'Wind Sp. [m/s]', titlePad: 55.7});

// 7 snow depth
const lastLabels = hourLabels.map((l, k) => k === 0 ? [l, dayLabels[0]] : (k === hourLabels.length - 1 ? [l, dayLabels[1]] : l));
makePanel(6, [
  lineSet('', snowTime, snowVal, '#000000')
], {min: -8630, max: 400, ticks: [-8000, -6000, -4000, -2000, 0], labels: ['\u22128000', '\u22126000', '\u22124000', '\u22122000', '0'],
  title: 'Snow depth [mm]', titlePad: 18.4},
{xH: 1377 - (FIRST_TOP + 6 * PANEL_STEP + PANEL_H), xLabels: lastLabels, xLineHeight: 1.1, xTitle: 'Time [UTC]'});
</script>
</body>
</html>
